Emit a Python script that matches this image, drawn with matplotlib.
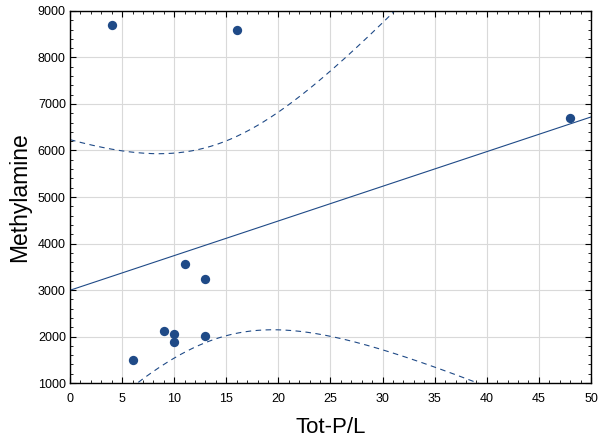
import numpy as np
import matplotlib
matplotlib.use("Agg")
import matplotlib.pyplot as plt
from matplotlib.ticker import MultipleLocator

# Data
tot_p = [4, 16, 48, 11, 13, 9, 10, 10, 13, 6]
methylamine = [8700, 8600, 6700, 3560, 3240, 2120, 2060, 1890, 2020, 1490]

plt.rcParams["font.family"] = ["Liberation Sans", "DejaVu Sans"]
color = "#1f4a87"

x = np.array(tot_p, dtype=float)
y = np.array(methylamine, dtype=float)

# least squares fit and 95% mean confidence band
n = len(x)
slope, intercept = np.polyfit(x, y, 1)
resid = y - (slope * x + intercept)
s = np.sqrt(np.sum(resid ** 2) / (n - 2))
t_val = 2.306  # t(0.975, 8)
sxx = np.sum((x - x.mean()) ** 2)

xs = np.linspace(0, 50, 400)
fit = slope * xs + intercept
hw = t_val * s * np.sqrt(1 / n + (xs - x.mean()) ** 2 / sxx)

fig = plt.figure(figsize=(6.02, 4.45), dpi=100)
ax = fig.add_axes([0.1163, 0.1393, 0.8654, 0.836])

ax.plot(xs, fit, color=color, lw=0.8)
ax.plot(xs, fit + hw, color=color, lw=0.8, ls=(0, (5, 4)))
ax.plot(xs, fit - hw, color=color, lw=0.8, ls=(0, (5, 4)))
ax.scatter(x, y, s=45, color=color, zorder=3, linewidths=0)

ax.set_xlim(0, 50)
ax.set_ylim(1000, 9000)
ax.xaxis.set_major_locator(MultipleLocator(5))
ax.xaxis.set_minor_locator(MultipleLocator(1))
ax.yaxis.set_major_locator(MultipleLocator(1000))
ax.yaxis.set_minor_locator(MultipleLocator(200))
ax.tick_params(which="both", direction="in", top=True, right=True, labelsize=9, colors="black")
ax.tick_params(which="major", length=4, width=0.8)
ax.tick_params(which="minor", length=2, width=0.6)
ax.tick_params(axis="x", pad=7)
ax.tick_params(axis="y", pad=3)
ax.grid(True, which="major", color="#d9d9d9", lw=0.8)
ax.set_axisbelow(True)
for sp in ax.spines.values():
    sp.set_linewidth(1.0)

ax.set_xlabel("Tot-P/L", fontsize=16, labelpad=9)
ax.set_ylabel("Methylamine", fontsize=16.5, labelpad=5)

fig.savefig("out.png", dpi=100)
